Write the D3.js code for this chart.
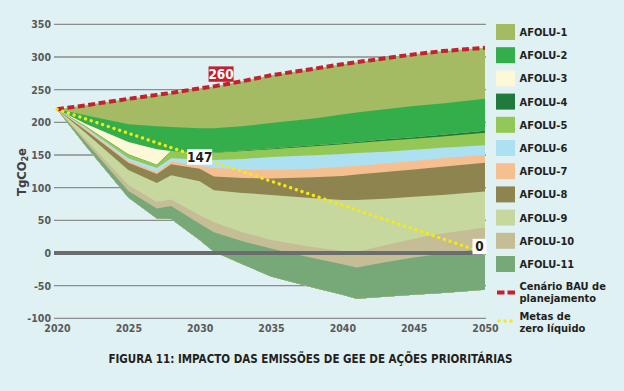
<!DOCTYPE html>
<html><head><meta charset="utf-8">
<script src="https://cdn.jsdelivr.net/npm/d3@7"></script>
<style>
html,body{margin:0;padding:0;background:#dff1f3;}
svg{display:block;}
text{font-family:"Liberation Sans Narrow","DejaVu Sans Condensed","Arial Narrow",sans-serif;font-weight:bold;}
</style></head><body>
<svg id="chart" width="624" height="391"></svg>
<script>
// ---- data (TgCO2e) ----
const years   = [2020,2022,2025,2027,2028,2030,2031,2033,2035,2038,2040,2041,2043,2045,2047,2050];
const bau     = [220,226,236,242,245,252,255,263,272,282,289,292,298,304,309,314];
const afolu1  = [0,15,39,48,52,61,64,69,73,76,77,77,78,79,80,78];
const afolu2  = [0,13,27,35,37,37,37,37,39,41,44,45,46,48,48,49];
const afolu3  = [0,4,19,24,0,0,0,0,0,0,0,0,0,0,0,0];
const afolu4  = [0,0,0,0,0,0.5,0.5,1,1,1.5,1.5,1.5,2,2,2.5,3];
const afolu5  = [0,2,6,5,11,10.5,11,12,12,14,15,15.5,17,17,17.5,19];
const afolu6  = [0,2,4,6,5,10,12.5,16,20,20.5,19.5,20,18,17,16,15];
const afolu7  = [0,2,3,3,4,4,13,13,13,13,14,13,13,13,13,12];
const afolu8  = [0,4,11,14,17,19,21,23,25,32,37,39,41,42,43,44];
const afolu9  = [0,10,23,29,37,52,49,60,69,75,78,79,71,64,59,55];
const afolu10 = [0,4,9,10,10,13,15,14,13,17,20,24,26,29,31,32];
const afolu11 = [0,6,10,15,20,25,30,35,43,45,47,48,53,57,60,63];
const seriesNames = ["AFOLU-1","AFOLU-2","AFOLU-3","AFOLU-4","AFOLU-5","AFOLU-6","AFOLU-7","AFOLU-8","AFOLU-9","AFOLU-10","AFOLU-11"];
const netZeroYears = [2020,2050];
const netZeroValues = [220,0];
const bauLabel = {year:2031.5, text:"260"};
const netLabels = [{year:2030, value:147, text:"147"},{year:2050, value:0, text:"0"}];
const yTicks = [-100,-50,0,50,100,150,200,250,300,350];
const xTicks = [2020,2025,2030,2035,2040,2045,2050];
const title = "FIGURA 11: IMPACTO DAS EMISSÕES DE GEE DE AÇÕES PRIORITÁRIAS";

const colors = ["#a4ba63","#34ad4b","#fcf8d8","#1f7a3b","#93c856","#ade0f1","#f6bf90","#8d8450","#c6d89e","#c5bd96","#77a978"];
const seriesVals = [afolu1,afolu2,afolu3,afolu4,afolu5,afolu6,afolu7,afolu8,afolu9,afolu10,afolu11];

const svg = d3.select("#chart");
const x = d3.scaleLinear().domain([2020,2050]).range([57,485]);
const y = d3.scaleLinear().domain([-100,350]).range([318.4,24.3]);

// gridlines
svg.append("g").selectAll("line").data(yTicks.filter(d=>d!==0)).join("line")
  .attr("x1",54).attr("x2",486).attr("y1",d=>y(d)).attr("y2",d=>y(d))
  .attr("stroke","#8b8d8f").attr("stroke-width",1.3);

// stacked reductions below BAU
let cur = bau.slice();
const layers = seriesVals.map((vals,i)=>{
  const bottom = cur.map((t,j)=>t - vals[j]);
  const l = {name:seriesNames[i], color:colors[i], upper:cur.slice(), bottom};
  cur = bottom;
  return l;
});
const finalBottom = cur;
const area = d3.area().x(d=>x(d.year)).y0(d=>y(d.b)).y1(d=>y(d.t));
layers.forEach(l=>{
  const pts = years.map((yr,j)=>({year:yr, t:l.upper[j], b:finalBottom[j]}));
  svg.append("path").datum(pts).attr("d",area).attr("fill",l.color);
});

// zero line
svg.append("line").attr("x1",54).attr("x2",486).attr("y1",y(0)).attr("y2",y(0))
  .attr("stroke","#6b6c6e").attr("stroke-width",4);

// axes labels
const yAxis = d3.axisLeft(y).tickValues(yTicks).tickSize(0).tickPadding(3).tickFormat(d=>String(d));
const gy = svg.append("g").attr("transform","translate(54,0)").call(yAxis);
gy.select(".domain").remove();
gy.selectAll("text").attr("fill","#58595b").style("font-size","10.5px");
const xAxis = d3.axisBottom(x).tickValues(xTicks).tickSize(0).tickPadding(6).tickFormat(d=>String(d));
const gx = svg.append("g").attr("transform",`translate(0,${y(-100)})`).call(xAxis);
gx.select(".domain").remove();
gx.selectAll("text").attr("fill","#58595b").style("font-size","10.5px");

// y title
const yt = svg.append("text").attr("transform","translate(26,172) rotate(-90)")
  .attr("text-anchor","middle").attr("fill","#414042").style("font-size","13px");
yt.append("tspan").text("TgCO");
yt.append("tspan").text("2").attr("baseline-shift","-25%").style("font-size","8.5px");
yt.append("tspan").text("e");

// BAU line
const line = d3.line().x((d,i)=>x(years[i])).y(d=>y(d));
svg.append("path").datum(bau).attr("d",line).attr("fill","none")
  .attr("stroke","#c5202f").attr("stroke-width",4).attr("stroke-dasharray","7,3.5");

// net zero target line
const nz = netZeroYears.map((yr,i)=>[x(yr),y(netZeroValues[i])]);
svg.append("path").attr("d",d3.line()(nz)).attr("fill","none")
  .attr("stroke","#f5ea12").attr("stroke-width",3.4).attr("stroke-linecap","round")
  .attr("stroke-dasharray","0.01,6");

// callouts
const bauAt = d3.scaleLinear().domain(years).range(bau);
{
  const cx = x(bauLabel.year), cy = y(bauAt(bauLabel.year)) - 11;
  svg.append("rect").attr("x",cx-12.5).attr("y",cy-7.7).attr("width",25).attr("height",15.4).attr("fill","#c5202f");
  svg.append("text").attr("x",cx).attr("y",cy+4.8).attr("text-anchor","middle").attr("fill","#fff").style("font-size","13.5px").text(bauLabel.text);
}
{
  const d = netLabels[0];
  const cx = x(d.year), cy = y(d.value);
  svg.append("rect").attr("x",cx-12.5).attr("y",cy-7.7).attr("width",25).attr("height",15.4).attr("fill","#fff");
  svg.append("text").attr("x",cx).attr("y",cy+4.8).attr("text-anchor","middle").attr("fill","#231f20").style("font-size","13.5px").text(d.text);
}
{
  const d = netLabels[1];
  const cx = x(d.year)-6, cy = y(d.value)-6.5;
  svg.append("rect").attr("x",cx-6.5).attr("y",cy-7.7).attr("width",14).attr("height",15.4).attr("fill","#fff");
  svg.append("text").attr("x",cx+0.5).attr("y",cy+4.8).attr("text-anchor","middle").attr("fill","#231f20").style("font-size","13.5px").text(d.text);
}

// legend
const lg = svg.append("g");
seriesNames.forEach((n,i)=>{
  const cy = 32 + i*23.2;
  lg.append("rect").attr("x",496).attr("y",cy-8).attr("width",19).attr("height",16).attr("fill",colors[i]);
  lg.append("text").attr("x",519.5).attr("y",cy+4).attr("fill","#231f20").style("font-size","11px").text(n);
});
lg.append("line").attr("x1",497).attr("x2",515).attr("y1",292.5).attr("y2",292.5)
  .attr("stroke","#c5202f").attr("stroke-width",4).attr("stroke-dasharray","7.5,3");
const t1 = lg.append("text").attr("fill","#231f20").style("font-size","11px");
t1.append("tspan").attr("x",519.5).attr("y",290).text("Cenário BAU de");
t1.append("tspan").attr("x",519.5).attr("y",301.5).text("planejamento");
lg.append("line").attr("x1",499).attr("x2",515).attr("y1",321).attr("y2",321)
  .attr("stroke","#f5ea12").attr("stroke-width",3.4).attr("stroke-linecap","round").attr("stroke-dasharray","0.01,6");
const t2 = lg.append("text").attr("fill","#231f20").style("font-size","11px");
t2.append("tspan").attr("x",519.5).attr("y",320).text("Metas de");
t2.append("tspan").attr("x",519.5).attr("y",331.5).text("zero líquido");

// title
svg.append("text").attr("x",310.5).attr("y",363.3).attr("text-anchor","middle")
  .attr("fill","#231f20").style("font-size","11.5px").text(title);
</script>
</body></html>
